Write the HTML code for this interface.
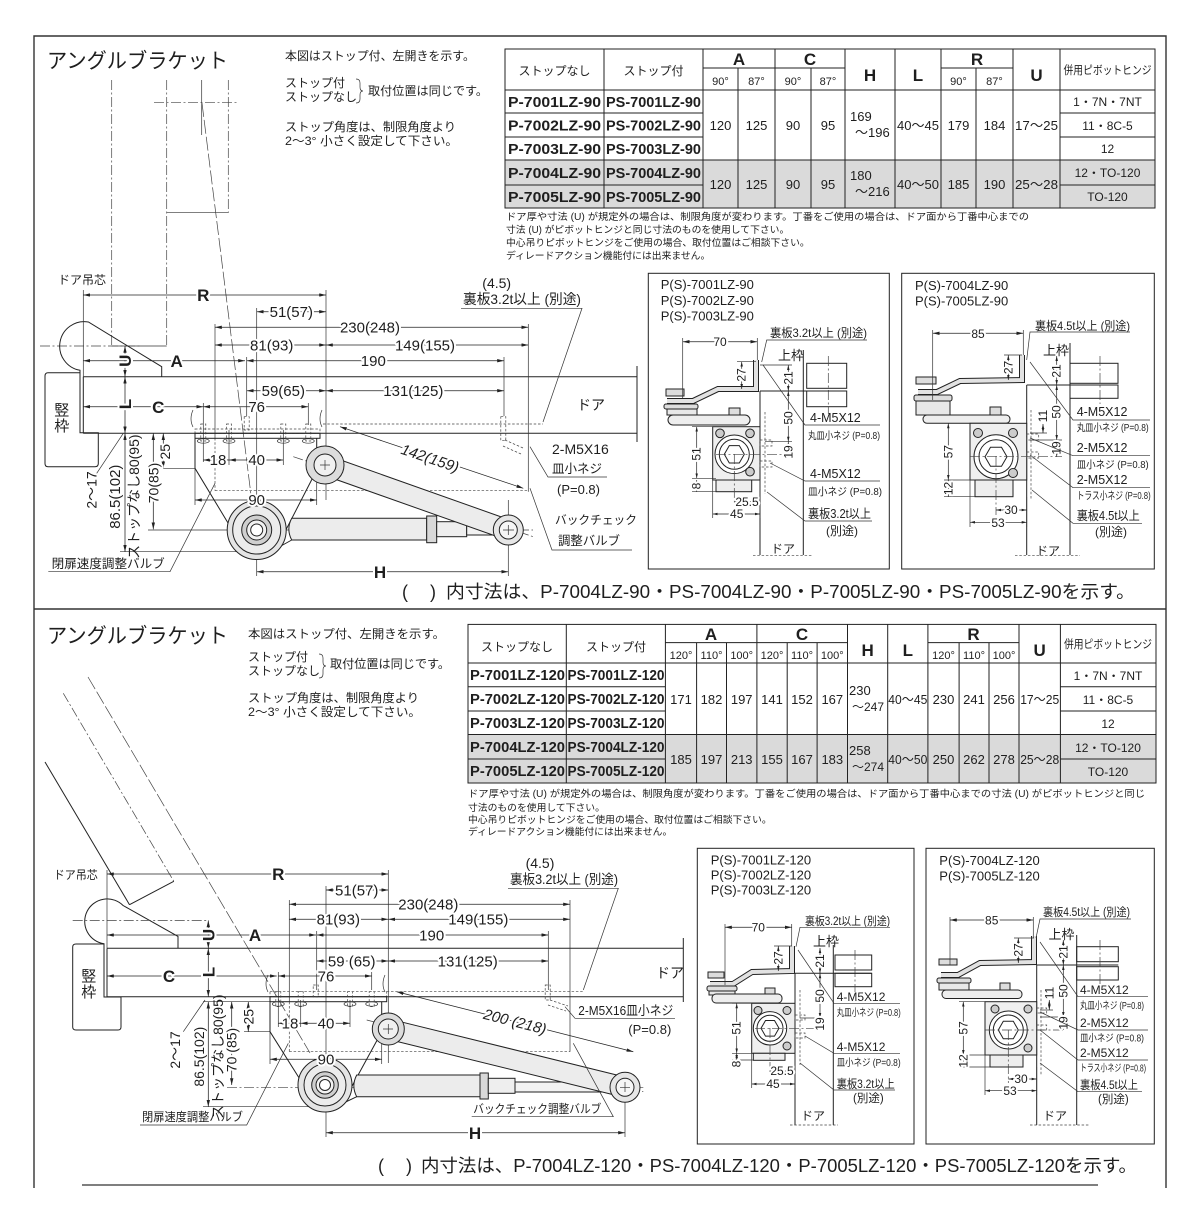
<!DOCTYPE html>
<html><head><meta charset="utf-8">
<style>html,body{margin:0;padding:0;background:#fff}svg{display:block}</style>
</head><body>
<svg xmlns="http://www.w3.org/2000/svg" width="1200" height="1215" viewBox="0 0 1200 1215">
<defs>
<marker id="a" viewBox="0 0 8 4" refX="8" refY="2" markerWidth="7" markerHeight="3.4" orient="auto-start-reverse" markerUnits="userSpaceOnUse"><path d="M0 0L8 2L0 4z" fill="#222"/></marker>
<marker id="b" viewBox="0 0 8 4" refX="8" refY="2" markerWidth="5" markerHeight="2.6" orient="auto-start-reverse" markerUnits="userSpaceOnUse"><path d="M0 0L8 2L0 4z" fill="#222"/></marker>
</defs>
<style>
text{font-family:"Liberation Sans","Noto Sans CJK JP",sans-serif;fill:#1e1e1e}
.s{stroke:#222;stroke-width:1;fill:none}
.f{stroke:#222;stroke-width:1}
.th{stroke:#333;stroke-width:.7;fill:none}
.dd{stroke:#444;stroke-width:.7;fill:none;stroke-dasharray:10 2.5 2 2.5}
.ds{stroke:#444;stroke-width:.7;fill:none;stroke-dasharray:2.5 1.8}
.ld{stroke:#444;stroke-width:.7;fill:none;stroke-dasharray:14 3}
.m{stroke:#222;stroke-width:.75;fill:none;marker-start:url(#a);marker-end:url(#a)}
.mb{stroke:#222;stroke-width:.7;fill:none;marker-start:url(#b);marker-end:url(#b)}
.c{text-anchor:middle}
.w{paint-order:stroke;stroke:#fff;stroke-width:4px;stroke-linejoin:round}
.n{font-size:15px}
.b{font-size:17px;font-weight:bold}
.k{font-size:13px}
.d{font-size:12px}
.e{font-size:10.5px}
.nt{font-size:9.8px}
.tb{font-size:15px;font-weight:bold}
.tv{font-size:13px}
</style>
<rect width="1200" height="1215" fill="#fff"/>

<!-- outer frame -->
<path d="M34 1188V36H1166V1188" fill="none" stroke="#333" stroke-width="1.4"/>
<line x1="34" y1="609" x2="1166" y2="609" stroke="#333" stroke-width="1.4"/>
<line x1="82" y1="1185" x2="1098" y2="1185" stroke="#333" stroke-width="1.2"/>

<!-- ================= TOP PANEL ================= -->
<text x="47" y="68" font-size="21" textLength="181" lengthAdjust="spacingAndGlyphs">アングルブラケット</text>
<text x="285" y="60" font-size="12" textLength="190" lengthAdjust="spacingAndGlyphs">本図はストップ付、左開きを示す。</text>
<text x="285" y="87" font-size="12">ストップ付</text>
<text x="285" y="101" font-size="12">ストップなし</text>
<path class="th" d="M356 79q4 0 4 4v4q0 4 3 4q-3 0-3 4v4q0 4-4 4"/>
<text x="368" y="95" font-size="12" textLength="120" lengthAdjust="spacingAndGlyphs">取付位置は同じです。</text>
<text x="285" y="131" font-size="12" textLength="171" lengthAdjust="spacingAndGlyphs">ストップ角度は、制限角度より</text>
<text x="285" y="145" font-size="12" textLength="173" lengthAdjust="spacingAndGlyphs">2〜3° 小さく設定して下さい。</text>

<!-- top table -->
<rect x="505" y="160" width="650" height="48" fill="#dadada"/>
<rect x="505" y="49" width="650" height="159" class="s"/>
<path class="s" d="M703 68H845M941 68H1013M505 90H1155M505 113H703M1060 113H1155M505 137H703M1060 137H1155M505 160H1155M505 185H703M1060 185H1155M604 49V208M703 49V208M738 68V208M775 49V208M811 68V208M845 49V208M895 49V208M941 49V208M976 68V208M1013 49V208M1060 49V208"/>
<text x="554.5" y="75" font-size="12" class="c">ストップなし</text>
<text x="653.5" y="75" font-size="12" class="c">ストップ付</text>
<text x="739" y="65" class="b c">A</text>
<text x="810" y="65" class="b c">C</text>
<text x="870" y="81" class="b c">H</text>
<text x="918" y="81" class="b c">L</text>
<text x="977" y="65" class="b c">R</text>
<text x="1036.5" y="81" class="b c">U</text>
<text x="1107.5" y="74" font-size="11.5" class="c" textLength="88" lengthAdjust="spacingAndGlyphs">併用ピボットヒンジ</text>
<g font-size="11">
<text x="720.5" y="85" class="c">90°</text><text x="756.5" y="85" class="c">87°</text>
<text x="793" y="85" class="c">90°</text><text x="828" y="85" class="c">87°</text>
<text x="958.5" y="85" class="c">90°</text><text x="994.5" y="85" class="c">87°</text>
</g>
<text x="508" y="107" class="tb" textLength="93" lengthAdjust="spacingAndGlyphs">P-7001LZ-90</text>
<text x="508" y="130.5" class="tb" textLength="93" lengthAdjust="spacingAndGlyphs">P-7002LZ-90</text>
<text x="508" y="154" class="tb" textLength="93" lengthAdjust="spacingAndGlyphs">P-7003LZ-90</text>
<text x="508" y="178" class="tb" textLength="93" lengthAdjust="spacingAndGlyphs">P-7004LZ-90</text>
<text x="508" y="202" class="tb" textLength="93" lengthAdjust="spacingAndGlyphs">P-7005LZ-90</text>
<text x="606" y="107" class="tb" textLength="95" lengthAdjust="spacingAndGlyphs">PS-7001LZ-90</text>
<text x="606" y="130.5" class="tb" textLength="95" lengthAdjust="spacingAndGlyphs">PS-7002LZ-90</text>
<text x="606" y="154" class="tb" textLength="95" lengthAdjust="spacingAndGlyphs">PS-7003LZ-90</text>
<text x="606" y="178" class="tb" textLength="95" lengthAdjust="spacingAndGlyphs">PS-7004LZ-90</text>
<text x="606" y="202" class="tb" textLength="95" lengthAdjust="spacingAndGlyphs">PS-7005LZ-90</text>
<g class="tv">
<text x="720.5" y="130" class="c">120</text><text x="756.5" y="130" class="c">125</text>
<text x="793" y="130" class="c">90</text><text x="828" y="130" class="c">95</text>
<text x="850" y="121">169</text><text x="855" y="137">〜196</text>
<text x="918" y="130" class="c" textLength="42" lengthAdjust="spacingAndGlyphs">40〜45</text>
<text x="958.5" y="130" class="c">179</text><text x="994.5" y="130" class="c">184</text>
<text x="1036.5" y="130" class="c" textLength="43" lengthAdjust="spacingAndGlyphs">17〜25</text>
<text x="720.5" y="189" class="c">120</text><text x="756.5" y="189" class="c">125</text>
<text x="793" y="189" class="c">90</text><text x="828" y="189" class="c">95</text>
<text x="850" y="180">180</text><text x="855" y="196">〜216</text>
<text x="918" y="189" class="c" textLength="42" lengthAdjust="spacingAndGlyphs">40〜50</text>
<text x="958.5" y="189" class="c">185</text><text x="994.5" y="189" class="c">190</text>
<text x="1036.5" y="189" class="c" textLength="43" lengthAdjust="spacingAndGlyphs">25〜28</text>
</g>
<g font-size="12">
<text x="1107.5" y="106" class="c">1・7N・7NT</text>
<text x="1107.5" y="130" class="c">11・8C-5</text>
<text x="1107.5" y="153" class="c">12</text>
<text x="1107.5" y="177" class="c">12・TO-120</text>
<text x="1107.5" y="201" class="c">TO-120</text>
</g>
<text x="506" y="220" class="nt" textLength="523" lengthAdjust="spacingAndGlyphs">ドア厚や寸法 (U) が規定外の場合は、制限角度が変わります。丁番をご使用の場合は、ドア面から丁番中心までの</text>
<text x="506" y="233" class="nt">寸法 (U) がピボットヒンジと同じ寸法のものを使用して下さい。</text>
<text x="506" y="246" class="nt">中心吊りピボットヒンジをご使用の場合、取付位置はご相談下さい。</text>
<text x="506" y="259" class="nt">ディレードアクション機能付には出来ません。</text>

<!-- top main drawing -->
<line class="dd" x1="111.7" y1="80" x2="111.7" y2="346"/>
<line class="dd" x1="166.7" y1="80" x2="166.7" y2="346"/>
<line class="th" x1="111.7" y1="346" x2="166.7" y2="346"/>
<line class="dd" x1="228.3" y1="80" x2="228.3" y2="212.7"/>
<line class="th" x1="166.7" y1="212.7" x2="228.3" y2="212.7"/>
<line class="dd" x1="154" y1="102.7" x2="238" y2="102.7"/>
<line class="th" x1="201.7" y1="80" x2="201.7" y2="135"/>
<line class="ld" x1="202" y1="103" x2="252" y2="503"/>
<line class="dd" x1="40" y1="346" x2="140" y2="346"/>
<path class="s" d="M80 372.7V370.3A24.5 24.5 0 1 1 88.4 322L161.7 366.7V376.7"/>
<path class="s" d="M80 372.7H48Q45 372.7 45 376V463.5Q45 466.7 48 466.7H95Q98.3 466.7 98.3 463.5V432.7H80Z"/>
<text x="61.7" y="415" font-size="15" class="c">竪</text>
<text x="61.7" y="431" font-size="15" class="c">枠</text>
<text x="58" y="284" font-size="12" textLength="48" lengthAdjust="spacingAndGlyphs">ドア吊芯</text>
<!-- door -->
<path class="s" d="M83.3 376.7H637M83.3 433.3H637M83.3 376.7V433.3M637 366V442"/>
<text x="591" y="410" font-size="14" class="c">ドア</text>

<!-- dims top -->
<line class="th" x1="83.3" y1="290" x2="83.3" y2="376.7"/>
<line class="th" x1="326" y1="290" x2="326" y2="500"/>
<line class="th" x1="256.7" y1="308" x2="256.7" y2="576"/>
<line class="th" x1="215" y1="324" x2="215" y2="438"/>
<line class="ds" x1="215" y1="438" x2="215" y2="490.7"/>
<line class="th" x1="528.3" y1="324" x2="528.3" y2="491.7"/>
<line class="th" x1="246.7" y1="357" x2="246.7" y2="416"/>
<line class="th" x1="504" y1="357" x2="504" y2="416"/>
<line class="th" x1="203.3" y1="403" x2="203.3" y2="462"/>
<line class="th" x1="308.3" y1="403" x2="308.3" y2="425"/>
<line class="m" x1="83.3" y1="295" x2="326" y2="295"/>
<line class="m" x1="256.7" y1="311.7" x2="326" y2="311.7"/>
<line class="m" x1="215" y1="327.3" x2="528.3" y2="327.3"/>
<line class="m" x1="215" y1="345" x2="326" y2="345"/>
<line class="m" x1="326" y1="345" x2="528.3" y2="345"/>
<line class="m" x1="83.3" y1="360.7" x2="245" y2="360.7"/>
<line class="m" x1="246.7" y1="360.7" x2="504" y2="360.7"/>
<line class="m" x1="246.7" y1="390.7" x2="326" y2="390.7"/>
<line class="m" x1="326" y1="390.7" x2="504" y2="390.7"/>
<line class="m" x1="83.3" y1="406.7" x2="203.3" y2="406.7"/>
<line class="m" x1="203.3" y1="406.7" x2="308.3" y2="406.7"/>
<line class="m" x1="125" y1="346" x2="125" y2="376.7"/>
<line class="m" x1="125" y1="376.7" x2="125" y2="433.3"/>
<line class="th" x1="120" y1="433.3" x2="195" y2="433.3"/>
<line class="m" x1="125" y1="433.3" x2="125" y2="551.7"/>
<line class="th" x1="120" y1="551.7" x2="256.7" y2="551.7"/>
<line class="m" x1="153.3" y1="433.3" x2="153.3" y2="529.3"/>
<line class="th" x1="148" y1="530" x2="230" y2="530"/>
<line class="m" x1="163.3" y1="433.3" x2="163.3" y2="468.3"/>
<line class="th" x1="160" y1="468.3" x2="195" y2="468.3"/>
<line class="th" x1="96.7" y1="473.3" x2="123.3" y2="433.3"/>
<line class="th" x1="229" y1="430" x2="229" y2="465"/>
<line class="th" x1="283.3" y1="430" x2="283.3" y2="465"/>
<line class="m" x1="203.3" y1="460" x2="229" y2="460"/>
<line class="m" x1="229" y1="460" x2="283.3" y2="460"/>
<line class="th" x1="195" y1="468" x2="195" y2="505"/>
<line class="th" x1="316.7" y1="470" x2="316.7" y2="505"/>
<line class="m" x1="195" y1="500" x2="316.7" y2="500"/>
<line class="th" x1="508.3" y1="500" x2="508.3" y2="576"/>
<line class="m" x1="256.7" y1="571.7" x2="508.3" y2="571.7"/>
<line class="dd" x1="230" y1="530" x2="533" y2="530"/>
<line class="dd" x1="293.3" y1="456.7" x2="533.3" y2="536.7"/>
<line class="m" x1="340" y1="426.7" x2="523.3" y2="488.3"/>

<!-- closer top -->
<rect x="195" y="429" width="125" height="4.3" class="ds"/>
<rect x="195" y="433.3" width="125" height="5" class="s"/>
<path class="s" d="M195 438.3V468.3L233.3 531.7M316.7 438.3V470L285 531.7"/>
<path class="th" d="M193 410q-4 9 0 17M322 410q-4 9 0 17"/>
<line class="ds" x1="323" y1="424" x2="543" y2="424"/>
<line class="ds" x1="215" y1="490.7" x2="528" y2="490.7"/>
<g class="ds">
<rect x="200.8" y="424" width="5" height="17"/><rect x="226.5" y="424" width="5" height="17"/>
<rect x="280.8" y="424" width="5" height="17"/><rect x="305.8" y="424" width="5" height="17"/>
<rect x="244.2" y="416.7" width="5" height="13.3"/><rect x="500.8" y="416.7" width="5" height="24"/>
<path d="M505 440l18 8M503 446l18 8"/>
</g>
<g class="th"><ellipse cx="203.3" cy="441" rx="6" ry="2.2"/><ellipse cx="229" cy="441" rx="6" ry="2.2"/><ellipse cx="283.3" cy="441" rx="6" ry="2.2"/><ellipse cx="308.3" cy="441" rx="6" ry="2.2"/></g>
<path class="f" fill="#ececec" d="M291.7 518.3H426.7V540H291.7Q286 529 291.7 518.3Z"/>
<rect class="f" fill="#d8d8d8" x="426.7" y="516" width="10" height="26.7"/>
<rect class="f" fill="#eee" x="436.7" y="521.7" width="30" height="15"/>
<rect class="f" fill="#f2f2f2" x="466.7" y="525" width="28" height="10"/>
<path class="s" d="M256.7 559.5L291.7 540"/>
<circle class="f" fill="#e4e4e4" cx="256.7" cy="530" r="29.5"/>
<circle class="f" fill="#ececec" cx="256.7" cy="530" r="24"/>
<circle class="f" fill="#cfcfcf" cx="256.7" cy="530" r="15"/>
<circle class="f" fill="#f2f2f2" cx="256.7" cy="530" r="10"/>
<circle class="f" fill="#fff" cx="256.7" cy="530" r="6"/>
<polygon class="f" fill="#ececec" points="328.3,455.6 511.6,520.6 505,539.4 321.7,474.4"/>
<circle class="f" fill="#dcdcdc" cx="325" cy="465" r="19"/>
<circle class="f" fill="#f0f0f0" cx="325" cy="465" r="11"/>
<path class="th" d="M320 465h10M325 460v10"/>
<circle class="f" fill="#e6e6e6" cx="508.3" cy="530" r="15"/>
<circle class="f" fill="#f6f6f6" cx="508.3" cy="530" r="9"/>
<path class="th" d="M503 530h11M508.3 525v10"/>

<!-- top labels -->
<text x="203.3" y="301" class="b c w">R</text>
<text x="291.3" y="317" class="n c w">51(57)</text>
<text x="370" y="332.5" class="n c w">230(248)</text>
<text x="271.7" y="350.5" class="n c w">81(93)</text>
<text x="425" y="350.5" class="n c w">149(155)</text>
<text x="176.7" y="367" class="b c w">A</text>
<text x="373.3" y="366" class="n c w">190</text>
<text x="283.3" y="396" class="n c w">59(65)</text>
<text x="413.3" y="396" class="n c w">131(125)</text>
<text x="158.3" y="413" class="b c w">C</text>
<text x="256.7" y="412" class="n c w">76</text>
<text class="b c w" transform="translate(125 360.7) rotate(-90)" y="6">U</text>
<text class="b c w" transform="translate(125 404) rotate(-90)" y="6">L</text>
<text class="n c" font-size="14" transform="translate(115 496.7) rotate(-90)" y="5">86.5(102)</text>
<text class="c" font-size="14" transform="translate(134 496.7) rotate(-90)" y="5">ストップなし80(95)</text>
<text class="c w" font-size="14" transform="translate(153.3 483) rotate(-90)" y="5">70(85)</text>
<text class="c w" font-size="14" transform="translate(165 451.7) rotate(-90)" y="5">25</text>
<text class="c" font-size="14" transform="translate(91.7 490) rotate(-90)" y="5">2〜17</text>
<text x="218" y="465" class="n c w">18</text>
<text x="256.7" y="465" class="n c w">40</text>
<text x="256.7" y="505" class="n c w">90</text>
<text x="380" y="578" class="b c w">H</text>
<text class="n c w" font-style="italic" transform="translate(430 458.3) rotate(18.6)" y="5">142(159)</text>
<text x="496.7" y="288" font-size="14" class="c">(4.5)</text>
<text x="463" y="304" font-size="14" textLength="118" lengthAdjust="spacingAndGlyphs">裏板3.2t以上 (別途)</text>
<path class="th" d="M461 308.3H582L543 422"/>
<text x="552" y="454" font-size="14">2-M5X16</text>
<text x="552" y="473" font-size="12.5">皿小ネジ</text>
<path class="th" d="M607 477H548L530 446.7"/>
<text x="557" y="494" font-size="13">(P=0.8)</text>
<text x="555" y="524" font-size="12" textLength="82" lengthAdjust="spacingAndGlyphs">バックチェック</text>
<text x="558" y="545" font-size="12.5" textLength="62" lengthAdjust="spacingAndGlyphs">調整バルブ</text>
<path class="th" d="M632 550H552L530 488.3"/>
<text x="51.7" y="568" font-size="12.5" textLength="113" lengthAdjust="spacingAndGlyphs">閉扉速度調整バルブ</text>
<path class="th" d="M48.3 571.7H170L215 483.3"/>
<text x="402" y="598" font-size="18">(</text>
<text x="430" y="598" font-size="18">)</text>
<text x="446" y="598" font-size="18" textLength="689" lengthAdjust="spacingAndGlyphs">内寸法は、P-7004LZ-90・PS-7004LZ-90・P-7005LZ-90・PS-7005LZ-90を示す。</text>

<!-- top-left detail -->
<rect x="648.3" y="273.3" width="241" height="295.7" class="s"/>
<text x="660.7" y="289" class="k">P(S)-7001LZ-90</text>
<text x="660.7" y="305" class="k">P(S)-7002LZ-90</text>
<text x="660.7" y="320.5" class="k">P(S)-7003LZ-90</text>
<rect x="806.7" y="363.3" width="40" height="25" class="s"/>
<rect x="806.7" y="391" width="40" height="15.7" class="s"/>
<line class="dd" x1="828.3" y1="356" x2="828.3" y2="414"/>
<path class="s" d="M803.3 350V555M760 391V555M760 391H846.7"/>
<line class="ds" x1="753" y1="555.7" x2="813" y2="555.7"/>
<line class="ds" x1="765" y1="412" x2="765" y2="494"/>
<text x="783" y="553" class="d c">ドア</text>
<text x="791" y="360" class="k c">上枠</text>
<polyline points="756,360 756,389 718,389 693,401 667,401" fill="none" stroke="#222" stroke-width="6"/>
<polyline points="756,360 756,389 718,389 693,401 667,401" fill="none" stroke="#e2e2e2" stroke-width="4"/>
<rect class="f" fill="#ddd" x="666" y="389" width="18" height="7"/>
<rect class="f" fill="#ddd" x="664" y="404" width="34" height="5" rx="2"/>
<rect class="f" fill="#e8e8e8" x="667" y="409" width="30" height="6"/>
<rect class="f" fill="#eee" x="668" y="415" width="82" height="10" rx="5"/>
<rect class="f" fill="#ddd" x="729" y="408" width="11" height="7"/>
<rect class="f" fill="#efefef" x="712.7" y="426.7" width="47.3" height="53.3"/>
<circle class="f" fill="#fff" cx="734.3" cy="454.3" r="19.3"/>
<circle class="s" cx="734.3" cy="454.3" r="15"/>
<polygon class="s" points="744.3,454.3 739.3,463 729.3,463 724.3,454.3 729.3,445.6 739.3,445.6"/>
<g class="f" fill="#ccc"><circle cx="720" cy="433.3" r="4.3"/><circle cx="750" cy="433.3" r="4.3"/><circle cx="750" cy="471.7" r="4.3"/></g>
<rect class="f" fill="#eee" x="716" y="480" width="35.7" height="11.7"/>
<g class="ds"><rect x="760" y="440" width="12" height="6"/><rect x="760" y="461" width="12" height="6"/></g>
<line class="th" x1="682.7" y1="338" x2="682.7" y2="398"/>
<line class="th" x1="757.3" y1="338" x2="757.3" y2="360"/>
<line class="m" x1="682.7" y1="341.7" x2="757.3" y2="341.7"/>
<text x="720" y="346" class="d c w">70</text>
<path class="th" d="M692 426.7H712.7M692 478.3H716M692 491.7H716M737 361.7H756M760 365H792M765 441.7H792M760 480V518M712.7 480V518"/>
<line class="dd" x1="716" y1="454.3" x2="795" y2="454.3"/>
<line class="dd" x1="734.3" y1="454" x2="734.3" y2="505"/>
<line class="mb" x1="696.7" y1="426.7" x2="696.7" y2="478.3"/>
<line class="mb" x1="696.7" y1="480" x2="696.7" y2="491.7"/>
<line class="mb" x1="734.3" y1="501.7" x2="760" y2="501.7"/>
<line class="mb" x1="712.7" y1="514" x2="760" y2="514"/>
<line class="mb" x1="741.7" y1="361.7" x2="741.7" y2="389"/>
<line class="mb" x1="788.3" y1="365" x2="788.3" y2="391"/>
<line class="mb" x1="788.3" y1="391" x2="788.3" y2="441.7"/>
<line class="mb" x1="788.3" y1="441.7" x2="788.3" y2="454.3"/>
<text class="d c w" transform="translate(696.7 454) rotate(-90)" y="4">51</text>
<text class="d c w" transform="translate(696.7 486) rotate(-90)" y="4">8</text>
<text x="747" y="506" class="d c w">25.5</text>
<text x="736.7" y="518" class="d c w">45</text>
<text class="d c w" transform="translate(741.7 375) rotate(-90)" y="4">27</text>
<text class="d c w" transform="translate(788.3 378) rotate(-90)" y="4">21</text>
<text class="d c w" transform="translate(788.3 418) rotate(-90)" y="4">50</text>
<text class="d c w" transform="translate(788.3 452) rotate(-90)" y="4">19</text>
<text x="770" y="337" font-size="12" textLength="97" lengthAdjust="spacingAndGlyphs">裏板3.2t以上 (別途)</text>
<path class="th" d="M867 340H766.7L761.7 362"/>
<text x="810" y="422" font-size="12.5">4-M5X12</text>
<text x="808" y="439" class="e" textLength="72" lengthAdjust="spacingAndGlyphs">丸皿小ネジ (P=0.8)</text>
<path class="th" d="M880 425H805L763 365"/>
<text x="810" y="478" font-size="12.5">4-M5X12</text>
<text x="808" y="495" class="e" textLength="74" lengthAdjust="spacingAndGlyphs">皿小ネジ (P=0.8)</text>
<path class="th" d="M880 481H805L770 463"/>
<text x="808" y="518" font-size="12.5" textLength="63" lengthAdjust="spacingAndGlyphs">裏板3.2t以上</text>
<text x="826" y="535" font-size="12">(別途)</text>
<path class="th" d="M872 521H805L767 492"/>

<!-- top-right detail -->
<rect x="901.7" y="273.3" width="252.6" height="295.7" class="s"/>
<text x="915" y="290" class="k">P(S)-7004LZ-90</text>
<text x="915" y="305.5" class="k">P(S)-7005LZ-90</text>
<rect x="1070" y="363.3" width="48" height="20" class="s"/>
<rect x="1070" y="385" width="48" height="13.3" class="s"/>
<line class="dd" x1="1100" y1="356" x2="1100" y2="404"/>
<path class="s" d="M1070 343V555M1026.7 385V555M1026.7 385H1118"/>
<line class="ds" x1="1015" y1="555.7" x2="1080" y2="555.7"/>
<line class="ds" x1="1031" y1="410" x2="1031" y2="500"/>
<text x="1048" y="555" class="d c">ドア</text>
<text x="1056" y="355" class="k c">上枠</text>
<polyline points="1022,355 1022,380 960,381 937,392 918,392" fill="none" stroke="#222" stroke-width="6"/>
<polyline points="1022,355 1022,380 960,381 937,392 918,392" fill="none" stroke="#e2e2e2" stroke-width="4"/>
<rect class="f" fill="#ddd" x="916" y="377" width="20" height="7"/>
<rect class="f" fill="#ddd" x="914" y="395" width="38" height="6" rx="2"/>
<rect class="f" fill="#e8e8e8" x="916" y="401" width="34" height="14"/>
<rect class="f" fill="#eee" x="923" y="415" width="87" height="8.3" rx="4"/>
<rect class="f" fill="#ddd" x="990" y="407" width="11" height="8"/>
<rect class="f" fill="#efefef" x="970" y="423.3" width="56.7" height="56.7"/>
<circle class="f" fill="#fff" cx="996" cy="456.7" r="22"/>
<circle class="s" cx="996" cy="456.7" r="17"/>
<polygon class="s" points="1007,456.7 1001.5,466.2 990.5,466.2 985,456.7 990.5,447.2 1001.5,447.2"/>
<g class="f" fill="#ccc"><circle cx="978" cy="433" r="4.5"/><circle cx="1013" cy="433" r="4.5"/><circle cx="1013" cy="473" r="4.5"/></g>
<rect class="f" fill="#eee" x="975" y="480" width="38" height="16.7"/>
<g class="ds"><rect x="1026.7" y="434" width="12" height="6"/><rect x="1026.7" y="452" width="12" height="6"/></g>
<line class="th" x1="932.7" y1="330" x2="932.7" y2="400"/>
<line class="th" x1="1023.3" y1="330" x2="1023.3" y2="355"/>
<line class="m" x1="932.7" y1="333.3" x2="1023.3" y2="333.3"/>
<text x="978" y="338" class="d c w">85</text>
<path class="th" d="M944 423.3H970M944 480H975M944 496.7H975M1026.7 497V527M970 480V527M1004 355H1022M1030 440H1062M1030 433H1047"/>
<line class="dd" x1="970" y1="456.7" x2="1062" y2="456.7"/>
<line class="dd" x1="996" y1="456" x2="996" y2="515"/>
<line class="mb" x1="948.3" y1="423.3" x2="948.3" y2="480"/>
<line class="mb" x1="948.3" y1="480" x2="948.3" y2="496.7"/>
<line class="mb" x1="996" y1="510" x2="1026.7" y2="510"/>
<line class="mb" x1="970" y1="522.3" x2="1026.7" y2="522.3"/>
<line class="mb" x1="1008.3" y1="355" x2="1008.3" y2="380"/>
<line class="mb" x1="1056.7" y1="356" x2="1056.7" y2="385"/>
<line class="mb" x1="1056.7" y1="385" x2="1056.7" y2="440"/>
<line class="mb" x1="1043" y1="424" x2="1043" y2="433"/>
<line class="mb" x1="1056.7" y1="440" x2="1056.7" y2="456.7"/>
<text class="d c w" transform="translate(948.3 451.7) rotate(-90)" y="4">57</text>
<text class="d c w" transform="translate(948.3 488.5) rotate(-90)" y="4">12</text>
<text x="1011" y="514" class="d c w">30</text>
<text x="998" y="527" class="d c w">53</text>
<text class="d c w" transform="translate(1008.3 367.5) rotate(-90)" y="4">27</text>
<text class="d c w" transform="translate(1056.7 371) rotate(-90)" y="4">21</text>
<text class="d c w" transform="translate(1056.7 412) rotate(-90)" y="4">50</text>
<text class="d c w" transform="translate(1043 416) rotate(-90)" y="4">11</text>
<text class="d c w" transform="translate(1056.7 448) rotate(-90)" y="4">19</text>
<text x="1035" y="330" font-size="12" textLength="95" lengthAdjust="spacingAndGlyphs">裏板4.5t以上 (別途)</text>
<path class="th" d="M1130 332H1030L1026.7 360"/>
<text x="1076.7" y="416" font-size="12.5">4-M5X12</text>
<text x="1076.7" y="431" class="e" textLength="72" lengthAdjust="spacingAndGlyphs">丸皿小ネジ (P=0.8)</text>
<path class="th" d="M1150 420H1073L1030 362"/>
<text x="1076.7" y="452" font-size="12.5">2-M5X12</text>
<text x="1076.7" y="468" class="e" textLength="72" lengthAdjust="spacingAndGlyphs">皿小ネジ (P=0.8)</text>
<path class="th" d="M1150 455.7H1073L1030 438"/>
<text x="1076.7" y="484" font-size="12.5">2-M5X12</text>
<text x="1076.7" y="499" class="e" textLength="74" lengthAdjust="spacingAndGlyphs">トラス小ネジ (P=0.8)</text>
<path class="th" d="M1150 487.7H1073L1030 455"/>
<text x="1076.7" y="520" font-size="12.5" textLength="63" lengthAdjust="spacingAndGlyphs">裏板4.5t以上</text>
<text x="1095" y="536" font-size="12">(別途)</text>
<path class="th" d="M1142 523.3H1073L1032 490"/>

<!-- ================= BOTTOM PANEL ================= -->
<text x="47" y="643" font-size="21" textLength="181" lengthAdjust="spacingAndGlyphs">アングルブラケット</text>
<text x="248" y="638" font-size="12" textLength="197" lengthAdjust="spacingAndGlyphs">本図はストップ付、左開きを示す。</text>
<text x="248" y="661" font-size="12">ストップ付</text>
<text x="248" y="675" font-size="12">ストップなし</text>
<path class="th" d="M319 654q4 0 4 4v4q0 4 3 4q-3 0-3 4v4q0 4-4 4"/>
<text x="330" y="668" font-size="12" textLength="120" lengthAdjust="spacingAndGlyphs">取付位置は同じです。</text>
<text x="248" y="702" font-size="12" textLength="171" lengthAdjust="spacingAndGlyphs">ストップ角度は、制限角度より</text>
<text x="248" y="716" font-size="12" textLength="173" lengthAdjust="spacingAndGlyphs">2〜3° 小さく設定して下さい。</text>

<!-- bottom table -->
<rect x="468" y="734.5" width="688" height="48.5" fill="#dadada"/>
<rect x="468" y="624.4" width="688" height="158.6" class="s"/>
<path class="s" d="M665.4 642.6H847.5M927.9 642.6H1019M468 663H1156M468 686.7H665.4M1060.4 686.7H1156M468 711H665.4M1060.4 711H1156M468 734.5H1156M468 759H665.4M1060.4 759H1156M566.3 624.4V783M665.4 624.4V783M696.6 642.6V783M726.5 642.6V783M756.9 624.4V783M787.2 642.6V783M817.1 642.6V783M847.5 624.4V783M887.7 624.4V783M927.9 624.4V783M959.1 642.6V783M989 642.6V783M1019 624.4V783M1060.4 624.4V783"/>
<text x="517" y="651" font-size="12" class="c">ストップなし</text>
<text x="616" y="651" font-size="12" class="c">ストップ付</text>
<text x="711" y="640" class="b c">A</text>
<text x="802" y="640" class="b c">C</text>
<text x="867.6" y="656" class="b c">H</text>
<text x="907.8" y="656" class="b c">L</text>
<text x="973.5" y="640" class="b c">R</text>
<text x="1039.7" y="656" class="b c">U</text>
<text x="1108" y="648" font-size="11.5" class="c" textLength="88" lengthAdjust="spacingAndGlyphs">併用ピボットヒンジ</text>
<g font-size="11">
<text x="681" y="659" class="c">120°</text><text x="711.5" y="659" class="c">110°</text><text x="741.7" y="659" class="c">100°</text>
<text x="772" y="659" class="c">120°</text><text x="802" y="659" class="c">110°</text><text x="832.3" y="659" class="c">100°</text>
<text x="943.5" y="659" class="c">120°</text><text x="974" y="659" class="c">110°</text><text x="1004" y="659" class="c">100°</text>
</g>
<text x="470" y="680" class="tb" textLength="95" lengthAdjust="spacingAndGlyphs">P-7001LZ-120</text>
<text x="470" y="704" class="tb" textLength="95" lengthAdjust="spacingAndGlyphs">P-7002LZ-120</text>
<text x="470" y="728" class="tb" textLength="95" lengthAdjust="spacingAndGlyphs">P-7003LZ-120</text>
<text x="470" y="752" class="tb" textLength="95" lengthAdjust="spacingAndGlyphs">P-7004LZ-120</text>
<text x="470" y="776" class="tb" textLength="95" lengthAdjust="spacingAndGlyphs">P-7005LZ-120</text>
<text x="567.5" y="680" class="tb" textLength="97" lengthAdjust="spacingAndGlyphs">PS-7001LZ-120</text>
<text x="567.5" y="704" class="tb" textLength="97" lengthAdjust="spacingAndGlyphs">PS-7002LZ-120</text>
<text x="567.5" y="728" class="tb" textLength="97" lengthAdjust="spacingAndGlyphs">PS-7003LZ-120</text>
<text x="567.5" y="752" class="tb" textLength="97" lengthAdjust="spacingAndGlyphs">PS-7004LZ-120</text>
<text x="567.5" y="776" class="tb" textLength="97" lengthAdjust="spacingAndGlyphs">PS-7005LZ-120</text>
<g class="tv">
<text x="681" y="704" class="c">171</text><text x="711.5" y="704" class="c">182</text><text x="741.7" y="704" class="c">197</text>
<text x="772" y="704" class="c">141</text><text x="802" y="704" class="c">152</text><text x="832.3" y="704" class="c">167</text>
<text x="849" y="695">230</text><text x="852" y="711" font-size="12">〜247</text>
<text x="907.8" y="704" class="c" textLength="39" lengthAdjust="spacingAndGlyphs">40〜45</text>
<text x="943.5" y="704" class="c">230</text><text x="974" y="704" class="c">241</text><text x="1004" y="704" class="c">256</text>
<text x="1039.7" y="704" class="c" textLength="39" lengthAdjust="spacingAndGlyphs">17〜25</text>
<text x="681" y="764" class="c">185</text><text x="711.5" y="764" class="c">197</text><text x="741.7" y="764" class="c">213</text>
<text x="772" y="764" class="c">155</text><text x="802" y="764" class="c">167</text><text x="832.3" y="764" class="c">183</text>
<text x="849" y="755">258</text><text x="852" y="771" font-size="12">〜274</text>
<text x="907.8" y="764" class="c" textLength="39" lengthAdjust="spacingAndGlyphs">40〜50</text>
<text x="943.5" y="764" class="c">250</text><text x="974" y="764" class="c">262</text><text x="1004" y="764" class="c">278</text>
<text x="1039.7" y="764" class="c" textLength="39" lengthAdjust="spacingAndGlyphs">25〜28</text>
</g>
<g font-size="12">
<text x="1108" y="680" class="c">1・7N・7NT</text>
<text x="1108" y="704" class="c">11・8C-5</text>
<text x="1108" y="728" class="c">12</text>
<text x="1108" y="752" class="c">12・TO-120</text>
<text x="1108" y="776" class="c">TO-120</text>
</g>
<text x="468" y="797" class="nt" textLength="677" lengthAdjust="spacingAndGlyphs">ドア厚や寸法 (U) が規定外の場合は、制限角度が変わります。丁番をご使用の場合は、ドア面から丁番中心までの寸法 (U) がピボットヒンジと同じ</text>
<text x="468" y="811" class="nt">寸法のものを使用して下さい。</text>
<text x="468" y="823" class="nt">中心吊りピボットヒンジをご使用の場合、取付位置はご相談下さい。</text>
<text x="468" y="835" class="nt">ディレードアクション機能付には出来ません。</text>

<!-- bottom main drawing -->
<line class="s" x1="45" y1="762" x2="129.5" y2="904.7" stroke-width=".8"/>
<line class="dd" x1="63.3" y1="693.3" x2="173.8" y2="881.3"/>
<line class="ld" x1="88" y1="677" x2="310" y2="1053"/>
<line class="s" x1="129.5" y1="904.7" x2="173.8" y2="881.3" stroke-width=".8"/>
<path class="s" d="M104 944V943.7A22.5 22.5 0 1 1 123.1 905.5L178 936.4V948.3"/>
<line class="dd" x1="72.7" y1="920.4" x2="207.4" y2="920.4"/>
<line class="th" x1="107" y1="870" x2="107" y2="948"/>
<text x="53.8" y="879" font-size="12" textLength="44" lengthAdjust="spacingAndGlyphs">ドア吊芯</text>
<path class="s" d="M104 944H76Q72.7 944 72.7 947V1027Q72.7 1030 76 1030H118Q121 1030 121 1027V997H104Z"/>
<text x="88.7" y="981" font-size="15" class="c">竪</text>
<text x="88.7" y="997" font-size="15" class="c">枠</text>
<path class="s" d="M107 948.3H683.3M107 996.7H683.3M107 948.3V996.7M683.3 938V1002"/>
<text x="670" y="978" font-size="14" class="c">ドア</text>

<!-- dims bottom -->
<line class="th" x1="388.3" y1="870" x2="388.3" y2="1063"/>
<line class="th" x1="326" y1="886" x2="326" y2="1137"/>
<line class="th" x1="289.3" y1="900" x2="289.3" y2="1001.7"/>
<line class="ds" x1="289.3" y1="1001.7" x2="289.3" y2="1051.7"/>
<line class="th" x1="570" y1="900" x2="570" y2="1051.7"/>
<line class="th" x1="316.7" y1="931" x2="316.7" y2="990"/>
<line class="th" x1="548.3" y1="931" x2="548.3" y2="990"/>
<line class="th" x1="278.3" y1="972" x2="278.3" y2="1027"/>
<line class="th" x1="371.7" y1="972" x2="371.7" y2="990"/>
<line class="m" x1="107" y1="874" x2="388.3" y2="874"/>
<line class="m" x1="326" y1="890" x2="388.3" y2="890"/>
<line class="m" x1="289.3" y1="904.3" x2="570" y2="904.3"/>
<line class="m" x1="289.3" y1="919.3" x2="388.3" y2="919.3"/>
<line class="m" x1="388.3" y1="919.3" x2="570" y2="919.3"/>
<line class="m" x1="107" y1="935" x2="316" y2="935"/>
<line class="m" x1="316.7" y1="935" x2="548.3" y2="935"/>
<line class="m" x1="316.7" y1="961" x2="388.3" y2="961"/>
<line class="m" x1="388.3" y1="961" x2="548.3" y2="961"/>
<line class="m" x1="107" y1="976" x2="276.7" y2="976"/>
<line class="m" x1="278.3" y1="976" x2="371.7" y2="976"/>
<line class="m" x1="208.3" y1="920.4" x2="208.3" y2="948.3"/>
<line class="m" x1="208.3" y1="948.3" x2="208.3" y2="996.7"/>
<line class="th" x1="203" y1="1001.7" x2="270" y2="1001.7"/>
<line class="m" x1="208.3" y1="1001.7" x2="208.3" y2="1106.7"/>
<line class="th" x1="203" y1="1106.7" x2="325" y2="1106.7"/>
<line class="m" x1="231.7" y1="1001.7" x2="231.7" y2="1085"/>
<line class="m" x1="248.3" y1="1001.7" x2="248.3" y2="1031.7"/>
<line class="th" x1="244" y1="1031.7" x2="270" y2="1031.7"/>
<line class="th" x1="183.3" y1="1031.7" x2="205" y2="1000"/>
<line class="th" x1="300.7" y1="1000" x2="300.7" y2="1027"/>
<line class="th" x1="350" y1="1000" x2="350" y2="1027"/>
<line class="m" x1="278.3" y1="1023.3" x2="300.7" y2="1023.3"/>
<line class="m" x1="300.7" y1="1023.3" x2="350" y2="1023.3"/>
<line class="th" x1="270" y1="1031" x2="270" y2="1064"/>
<line class="th" x1="381.7" y1="1031" x2="381.7" y2="1064"/>
<line class="m" x1="270" y1="1059.3" x2="381.7" y2="1059.3"/>
<line class="th" x1="625" y1="1095" x2="625" y2="1137"/>
<line class="m" x1="326" y1="1132.7" x2="625" y2="1132.7"/>
<line class="dd" x1="227" y1="1087.3" x2="643.3" y2="1087.3"/>
<line class="dd" x1="366.7" y1="1020" x2="643.3" y2="1091.7"/>
<line class="m" x1="396.7" y1="991.7" x2="633.3" y2="1051.7"/>

<!-- closer bottom -->
<rect x="270" y="991.7" width="116.7" height="5" class="ds"/>
<rect x="270" y="996.7" width="116.7" height="5" class="s"/>
<path class="s" d="M270 1001.7V1031.7L306.7 1090M381.7 1001.7V1031.7L351.7 1086.7"/>
<path class="th" d="M268 975q-4 9 0 17M385 975q-4 9 0 17"/>
<line class="ds" x1="386.7" y1="991.7" x2="583.3" y2="991.7"/>
<line class="ds" x1="289.3" y1="1051.7" x2="570" y2="1051.7"/>
<g class="ds">
<rect x="275.8" y="991.7" width="5" height="15"/><rect x="298.2" y="991.7" width="5" height="15"/>
<rect x="347.5" y="991.7" width="5" height="15"/><rect x="369.2" y="991.7" width="5" height="15"/>
<rect x="313.2" y="985" width="5" height="12"/><rect x="545.2" y="985" width="5" height="15"/>
<path d="M550 1000l18 6M548 1005l18 6"/>
</g>
<g class="th"><ellipse cx="278.3" cy="1004" rx="6" ry="2.2"/><ellipse cx="300.7" cy="1004" rx="6" ry="2.2"/><ellipse cx="350" cy="1004" rx="6" ry="2.2"/><ellipse cx="371.7" cy="1004" rx="6" ry="2.2"/></g>
<path class="f" fill="#ececec" d="M356.7 1075H480V1096.7H356.7Q351 1086 356.7 1075Z"/>
<rect class="f" fill="#d8d8d8" x="480" y="1073" width="8.3" height="26"/>
<rect class="f" fill="#eee" x="488.3" y="1078.3" width="26.7" height="15"/>
<rect class="f" fill="#f2f2f2" x="515" y="1082" width="98" height="10"/>
<path class="s" d="M325 1112L356.7 1096.7"/>
<circle class="f" fill="#e4e4e4" cx="325" cy="1085" r="27"/>
<circle class="f" fill="#ececec" cx="325" cy="1085" r="21"/>
<circle class="f" fill="#cfcfcf" cx="325" cy="1085" r="13.3"/>
<circle class="f" fill="#f2f2f2" cx="325" cy="1085" r="9"/>
<circle class="f" fill="#fff" cx="325" cy="1085" r="5.5"/>
<polygon class="f" fill="#ececec" points="390.7,1019.3 627.4,1077.6 622.6,1097 385.9,1038.7"/>
<circle class="f" fill="#dcdcdc" cx="388.3" cy="1029" r="16"/>
<circle class="f" fill="#f0f0f0" cx="388.3" cy="1029" r="10"/>
<path class="th" d="M383 1029h10M388.3 1024v10"/>
<circle class="f" fill="#e6e6e6" cx="625" cy="1087.3" r="15"/>
<circle class="f" fill="#f6f6f6" cx="625" cy="1087.3" r="9"/>
<path class="th" d="M620 1087.3h10M625 1082v10"/>

<!-- bottom labels -->
<text x="278.3" y="880" class="b c w">R</text>
<text x="356.7" y="895.5" class="n c w">51(57)</text>
<text x="428.3" y="909.5" class="n c w">230(248)</text>
<text x="338.3" y="924.5" class="n c w">81(93)</text>
<text x="478.3" y="924.5" class="n c w">149(155)</text>
<text x="255" y="941" class="b c w">A</text>
<text x="431.7" y="940.5" class="n c w">190</text>
<text x="351.7" y="966.5" class="n c w">59 (65)</text>
<text x="467.7" y="966.5" class="n c w">131(125)</text>
<text x="169" y="982" class="b c w">C</text>
<text x="326" y="981.5" class="n c w">76</text>
<text class="b c w" transform="translate(208.3 935) rotate(-90)" y="6">U</text>
<text class="b c w" transform="translate(208.3 972) rotate(-90)" y="6">L</text>
<text class="c" font-size="14" transform="translate(199 1056.7) rotate(-90)" y="5">86.5(102)</text>
<text class="c" font-size="14" transform="translate(218 1056.7) rotate(-90)" y="5">ストップなし80(95)</text>
<text class="c w" font-size="14" transform="translate(231.7 1050) rotate(-90)" y="5">70 (85)</text>
<text class="c w" font-size="14" transform="translate(248.3 1016.7) rotate(-90)" y="5">25</text>
<text class="c" font-size="14" transform="translate(175 1050) rotate(-90)" y="5">2〜17</text>
<text x="290" y="1028.5" class="n c w">18</text>
<text x="326" y="1028.5" class="n c w">40</text>
<text x="326" y="1064.5" class="n c w">90</text>
<text x="475" y="1139" class="b c w">H</text>
<text class="n c w" font-style="italic" transform="translate(515 1021.7) rotate(14.2)" y="5">200 (218)</text>
<text x="540" y="868" font-size="14" class="c">(4.5)</text>
<text x="510" y="884" font-size="13.5" textLength="108" lengthAdjust="spacingAndGlyphs">裏板3.2t以上 (別途)</text>
<path class="th" d="M508 888.3H618.3L583.3 990"/>
<text x="578.3" y="1015" font-size="13" textLength="95" lengthAdjust="spacingAndGlyphs">2-M5X16皿小ネジ</text>
<path class="th" d="M675 1018.3H575L565 1006.7"/>
<text x="628.3" y="1034" font-size="13">(P=0.8)</text>
<text x="473.3" y="1113" font-size="12" textLength="128" lengthAdjust="spacingAndGlyphs">バックチェック調整バルブ</text>
<path class="th" d="M471.7 1116.7H613.3L573.3 1043.3"/>
<text x="142" y="1121" font-size="12" textLength="101" lengthAdjust="spacingAndGlyphs">閉扉速度調整バルブ</text>
<path class="th" d="M140 1125H246.7L288.3 1043.3"/>
<text x="378" y="1172" font-size="18">(</text>
<text x="406" y="1172" font-size="18">)</text>
<text x="421" y="1172" font-size="18" textLength="716" lengthAdjust="spacingAndGlyphs">内寸法は、P-7004LZ-120・PS-7004LZ-120・P-7005LZ-120・PS-7005LZ-120を示す。</text>

<!-- bottom-left detail -->
<rect x="697.3" y="848.3" width="216.7" height="295.7" class="s"/>
<text x="710.7" y="864.5" class="k">P(S)-7001LZ-120</text>
<text x="710.7" y="879.5" class="k">P(S)-7002LZ-120</text>
<text x="710.7" y="894.5" class="k">P(S)-7003LZ-120</text>
<rect x="835" y="955" width="36.7" height="15" class="s"/>
<rect x="835" y="973.3" width="36.7" height="13.4" class="s"/>
<line class="dd" x1="855" y1="950" x2="855" y2="992"/>
<path class="s" d="M833.3 945V1125M795 973.3V1125M795 973.3H871.7"/>
<line class="ds" x1="790" y1="1125" x2="838" y2="1125"/>
<line class="ds" x1="800" y1="990" x2="800" y2="1065"/>
<text x="813" y="1120" class="d c">ドア</text>
<text x="826" y="946" class="k c">上枠</text>
<polyline points="792,946 792,971 752,972 733,984 710,984" fill="none" stroke="#222" stroke-width="6"/>
<polyline points="792,946 792,971 752,972 733,984 710,984" fill="none" stroke="#e2e2e2" stroke-width="4"/>
<rect class="f" fill="#ddd" x="708" y="972" width="16" height="6"/>
<rect class="f" fill="#ddd" x="707" y="986" width="30" height="5" rx="2"/>
<rect class="f" fill="#e8e8e8" x="709" y="991" width="26" height="4"/>
<rect class="f" fill="#eee" x="712" y="994" width="70" height="9" rx="4"/>
<rect class="f" fill="#ddd" x="765" y="988" width="10" height="6"/>
<rect class="f" fill="#efefef" x="751.7" y="1003.3" width="43.3" height="50"/>
<circle class="f" fill="#fff" cx="770" cy="1028.3" r="16.7"/>
<circle class="s" cx="770" cy="1028.3" r="13"/>
<polygon class="s" points="779,1028.3 774.5,1036.1 765.5,1036.1 761,1028.3 765.5,1020.5 774.5,1020.5"/>
<g class="f" fill="#ccc"><circle cx="758" cy="1010.5" r="4"/><circle cx="787" cy="1010.5" r="4"/><circle cx="787" cy="1046" r="4"/></g>
<rect class="f" fill="#eee" x="753.3" y="1053.3" width="31.7" height="7"/>
<g class="ds"><rect x="795" y="1015" width="10" height="5"/><rect x="795" y="1033" width="10" height="5"/></g>
<line class="th" x1="725" y1="924" x2="725" y2="985"/>
<line class="th" x1="791.7" y1="924" x2="791.7" y2="946"/>
<line class="m" x1="725" y1="927.3" x2="791.7" y2="927.3"/>
<text x="758.3" y="931.5" class="d c w">70</text>
<path class="th" d="M732 1003.3H752M732 1053.3H753M732 1060H753M795 1053V1088M751.7 1053V1088M774 946H792M800 1018H824"/>
<line class="dd" x1="755" y1="1028.3" x2="824" y2="1028.3"/>
<line class="dd" x1="770" y1="1028" x2="770" y2="1075"/>
<line class="mb" x1="736.7" y1="1003.3" x2="736.7" y2="1053.3"/>
<line class="mb" x1="736.7" y1="1053.3" x2="736.7" y2="1060"/>
<line class="mb" x1="770" y1="1071" x2="795" y2="1071"/>
<line class="mb" x1="751.7" y1="1084" x2="795" y2="1084"/>
<line class="mb" x1="778.3" y1="946" x2="778.3" y2="971"/>
<line class="mb" x1="820" y1="948" x2="820" y2="973.3"/>
<line class="mb" x1="820" y1="973.3" x2="820" y2="1018"/>
<line class="mb" x1="820" y1="1018" x2="820" y2="1028.3"/>
<text class="d c w" transform="translate(736.7 1028) rotate(-90)" y="4">51</text>
<text class="d c w" transform="translate(736.7 1064) rotate(-90)" y="4">8</text>
<text x="782" y="1075" class="d c w">25.5</text>
<text x="773" y="1088" class="d c w">45</text>
<text class="d c w" transform="translate(778.3 958) rotate(-90)" y="4">27</text>
<text class="d c w" transform="translate(820 961) rotate(-90)" y="4">21</text>
<text class="d c w" transform="translate(820 996) rotate(-90)" y="4">50</text>
<text class="d c w" transform="translate(820 1024) rotate(-90)" y="4">19</text>
<text x="805" y="925" font-size="11.5" textLength="85" lengthAdjust="spacingAndGlyphs">裏板3.2t以上 (別途)</text>
<path class="th" d="M890 927.3H800L796 946.7"/>
<text x="836.7" y="1001" font-size="12">4-M5X12</text>
<text x="836.7" y="1016" font-size="10" textLength="64" lengthAdjust="spacingAndGlyphs">丸皿小ネジ (P=0.8)</text>
<path class="th" d="M900 1003.3H834L798 950"/>
<text x="836.7" y="1051" font-size="12">4-M5X12</text>
<text x="836.7" y="1066" font-size="10" textLength="64" lengthAdjust="spacingAndGlyphs">皿小ネジ (P=0.8)</text>
<path class="th" d="M900 1053.3H834L805 1036"/>
<text x="836.7" y="1088" font-size="12" textLength="58" lengthAdjust="spacingAndGlyphs">裏板3.2t以上</text>
<text x="853" y="1102" font-size="11.5">(別途)</text>
<path class="th" d="M895 1090H834L800 1063"/>

<!-- bottom-right detail -->
<rect x="926" y="848.3" width="228.3" height="295.7" class="s"/>
<text x="939.3" y="865" class="k">P(S)-7004LZ-120</text>
<text x="939.3" y="880.5" class="k">P(S)-7005LZ-120</text>
<rect x="1076.7" y="946.7" width="41.6" height="15" class="s"/>
<rect x="1076.7" y="966.7" width="41.6" height="13.3" class="s"/>
<line class="dd" x1="1100" y1="940" x2="1100" y2="985"/>
<path class="s" d="M1076.7 935V1125M1036.7 965V1125M1036.7 965H1118.3"/>
<line class="ds" x1="1030" y1="1125" x2="1090" y2="1125"/>
<line class="ds" x1="1041" y1="990" x2="1041" y2="1075"/>
<text x="1055" y="1120" class="d c">ドア</text>
<text x="1061.5" y="939" class="k c">上枠</text>
<polyline points="1034,936 1034,962 980,963 958,975 941,975" fill="none" stroke="#222" stroke-width="6"/>
<polyline points="1034,936 1034,962 980,963 958,975 941,975" fill="none" stroke="#e2e2e2" stroke-width="4"/>
<rect class="f" fill="#ddd" x="939" y="959" width="18" height="6"/>
<rect class="f" fill="#ddd" x="937" y="978" width="34" height="5" rx="2"/>
<rect class="f" fill="#e8e8e8" x="939" y="983" width="30" height="7"/>
<rect class="f" fill="#eee" x="942" y="990" width="80" height="8.5" rx="4"/>
<rect class="f" fill="#ddd" x="1000" y="983" width="10" height="7"/>
<rect class="f" fill="#efefef" x="985" y="1001.7" width="51.7" height="53.3"/>
<circle class="f" fill="#fff" cx="1008.3" cy="1030" r="19"/>
<circle class="s" cx="1008.3" cy="1030" r="15"/>
<polygon class="s" points="1018.3,1030 1013.3,1038.7 1003.3,1038.7 998.3,1030 1003.3,1021.3 1013.3,1021.3"/>
<g class="f" fill="#ccc"><circle cx="995" cy="1009" r="4"/><circle cx="1028" cy="1009" r="4"/><circle cx="1028" cy="1048" r="4"/></g>
<rect class="f" fill="#eee" x="990" y="1055" width="33" height="12"/>
<g class="ds"><rect x="1036.7" y="1008" width="10" height="5"/><rect x="1036.7" y="1025" width="10" height="5"/></g>
<line class="th" x1="950" y1="917" x2="950" y2="965"/>
<line class="th" x1="1033.3" y1="917" x2="1033.3" y2="938"/>
<line class="m" x1="950" y1="920" x2="1033.3" y2="920"/>
<text x="991.7" y="924.5" class="d c w">85</text>
<path class="th" d="M959 1001.7H985M959 1055H990M959 1067H990M1036.7 1067V1095M985 1055V1095M1014 938H1034M1040 1017H1068M1040 1010H1053"/>
<line class="dd" x1="985" y1="1030" x2="1068" y2="1030"/>
<line class="dd" x1="1008.3" y1="1030" x2="1008.3" y2="1083"/>
<line class="mb" x1="963.3" y1="1001.7" x2="963.3" y2="1055"/>
<line class="mb" x1="963.3" y1="1055" x2="963.3" y2="1067"/>
<line class="mb" x1="1008.3" y1="1079" x2="1036.7" y2="1079"/>
<line class="mb" x1="985" y1="1090.7" x2="1036.7" y2="1090.7"/>
<line class="mb" x1="1018.3" y1="938" x2="1018.3" y2="963"/>
<line class="mb" x1="1063.3" y1="940" x2="1063.3" y2="965"/>
<line class="mb" x1="1063.3" y1="965" x2="1063.3" y2="1017"/>
<line class="mb" x1="1049.3" y1="1000" x2="1049.3" y2="1010"/>
<line class="mb" x1="1063.3" y1="1017" x2="1063.3" y2="1030"/>
<text class="d c w" transform="translate(963.3 1028) rotate(-90)" y="4">57</text>
<text class="d c w" transform="translate(963.3 1061) rotate(-90)" y="4">12</text>
<text x="1021" y="1083" class="d c w">30</text>
<text x="1010" y="1095" class="d c w">53</text>
<text class="d c w" transform="translate(1018.3 950) rotate(-90)" y="4">27</text>
<text class="d c w" transform="translate(1063.3 952) rotate(-90)" y="4">21</text>
<text class="d c w" transform="translate(1063.3 991) rotate(-90)" y="4">50</text>
<text class="d c w" transform="translate(1049.3 993) rotate(-90)" y="4">11</text>
<text class="d c w" transform="translate(1063.3 1023) rotate(-90)" y="4">19</text>
<text x="1043" y="916" font-size="11.5" textLength="87" lengthAdjust="spacingAndGlyphs">裏板4.5t以上 (別途)</text>
<path class="th" d="M1131 919H1040L1036 938"/>
<text x="1080" y="994" font-size="12">4-M5X12</text>
<text x="1080" y="1009" font-size="10" textLength="64" lengthAdjust="spacingAndGlyphs">丸皿小ネジ (P=0.8)</text>
<path class="th" d="M1148 996.7H1078L1040 942"/>
<text x="1080" y="1027" font-size="12">2-M5X12</text>
<text x="1080" y="1041.5" font-size="10" textLength="64" lengthAdjust="spacingAndGlyphs">皿小ネジ (P=0.8)</text>
<path class="th" d="M1148 1030H1078L1040 1012"/>
<text x="1080" y="1057" font-size="12">2-M5X12</text>
<text x="1080" y="1071.5" font-size="10" textLength="66" lengthAdjust="spacingAndGlyphs">トラス小ネジ (P=0.8)</text>
<path class="th" d="M1148 1060H1078L1040 1030"/>
<text x="1080" y="1089" font-size="12" textLength="58" lengthAdjust="spacingAndGlyphs">裏板4.5t以上</text>
<text x="1098" y="1103" font-size="11.5">(別途)</text>
<path class="th" d="M1142 1091.7H1078L1040 1063"/>
</svg>
</body></html>
